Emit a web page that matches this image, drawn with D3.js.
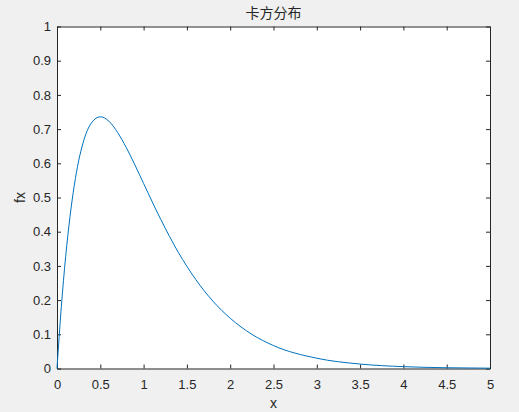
<!DOCTYPE html>
<html>
<head>
<meta charset="utf-8">
<script src="https://d3js.org/d3.v7.min.js"></script>
<style>
    body { margin: 0; background: #f0f0f0; }
    text { font-family: "Liberation Sans", Arial, sans-serif; fill: #262626; }
    .title { font-family: "Noto Sans CJK SC", sans-serif; font-size: 14px; }
</style>
</head>
<body>
<div id="chart"></div>
<script>
// values
var xs = [0, 0.05, 0.1, 0.15, 0.2, 0.25, 0.3, 0.4, 0.5, 0.6, 0.7, 0.8, 0.9, 1.0,
          1.2, 1.4, 1.6, 1.8, 2.0, 2.25, 2.5, 3.0, 3.5, 4.0, 4.5, 5.0]
var fx = [0, 0.181, 0.327, 0.444, 0.536, 0.607, 0.659, 0.719, 0.736, 0.723, 0.690, 0.646, 0.595, 0.541,
          0.435, 0.340, 0.261, 0.197, 0.147, 0.100, 0.067, 0.030, 0.013, 0.0054, 0.0022, 0.0009]
var xTicks = [0, 0.5, 1, 1.5, 2, 2.5, 3, 3.5, 4, 4.5, 5]
var yTicks = [0, 0.1, 0.2, 0.3, 0.4, 0.5, 0.6, 0.7, 0.8, 0.9, 1]

var width = 519, height = 412
var margin = {left: 57, right: 29, top: 26.5, bottom: 43.5}

var svg = d3.select("#chart").append("svg")
    .attr("width", width)
    .attr("height", height)

var x = d3.scaleLinear().domain([0, 5]).range([margin.left, width - margin.right])
var y = d3.scaleLinear().domain([0, 1]).range([height - margin.bottom, margin.top])

// plot area
svg.append("rect")
    .attr("x", x(0)).attr("y", y(1))
    .attr("width", x(5) - x(0)).attr("height", y(0) - y(1))
    .attr("fill", "#fff")

// axes with inward ticks, mirrored on top/right
function styleAxis(g) {
    g.select(".domain").attr("stroke", "#262626")
    g.selectAll(".tick line").attr("stroke", "#262626")
    g.selectAll("text").style("font-size", "13px").attr("fill", "#262626")
}

svg.append("g")
    .attr("transform", "translate(0," + y(0) + ")")
    .call(d3.axisBottom(x).tickValues(xTicks).tickSizeInner(-4).tickSizeOuter(0).tickPadding(11).tickFormat(d3.format("")))
    .call(styleAxis)

svg.append("g")
    .attr("transform", "translate(0," + y(1) + ")")
    .call(d3.axisTop(x).tickValues(xTicks).tickSizeInner(-4).tickSizeOuter(0).tickFormat(""))
    .call(styleAxis)

svg.append("g")
    .attr("transform", "translate(" + x(0) + ",0)")
    .call(d3.axisLeft(y).tickValues(yTicks).tickSizeInner(-4).tickSizeOuter(0).tickPadding(6).tickFormat(d3.format("")))
    .call(styleAxis)

svg.append("g")
    .attr("transform", "translate(" + x(5) + ",0)")
    .call(d3.axisRight(y).tickValues(yTicks).tickSizeInner(-4).tickSizeOuter(0).tickFormat(""))
    .call(styleAxis)

// the curve
var pts = xs.map(function(v, i) { return [v, fx[i]] })
svg.append("path")
    .datum(pts)
    .attr("fill", "none")
    .attr("stroke", "#0072bd")
    .attr("stroke-width", 1)
    .attr("d", d3.line().x(d => x(d[0])).y(d => y(d[1])).curve(d3.curveMonotoneX))

// labels
svg.append("text")
    .attr("class", "title")
    .attr("x", (x(0) + x(5)) / 2).attr("y", 18)
    .attr("text-anchor", "middle")
    .text("卡方分布")

svg.append("text")
    .attr("x", (x(0) + x(5)) / 2).attr("y", 408)
    .attr("text-anchor", "middle")
    .style("font-size", "14px")
    .text("x")

svg.append("text")
    .attr("transform", "translate(25," + (y(0) + y(1)) / 2 + ") rotate(-90)")
    .attr("text-anchor", "middle")
    .style("font-size", "14px")
    .text("fx")
</script>
</body>
</html>
